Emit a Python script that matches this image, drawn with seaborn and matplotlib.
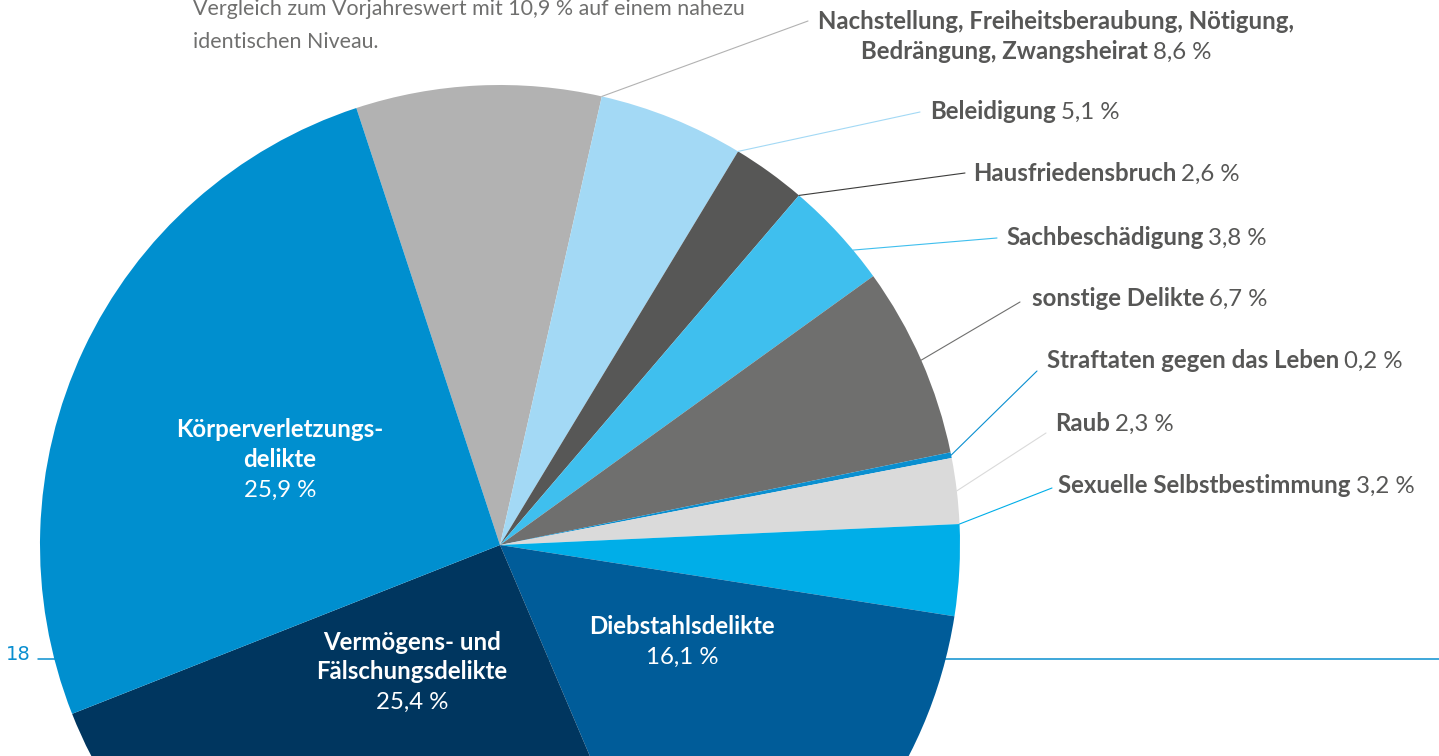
import numpy as np
import matplotlib.pyplot as plt
import seaborn as sns

sns.set_theme(style="white")
plt.rcParams['font.family'] = ['Lato', 'DejaVu Sans']

# slices, clockwise from the top
categories = [
    "Nachstellung, Freiheitsberaubung, Nötigung,\nBedrängung, Zwangsheirat",
    "Beleidigung",
    "Hausfriedensbruch",
    "Sachbeschädigung",
    "sonstige Delikte",
    "Straftaten gegen das Leben",
    "Raub",
    "Sexuelle Selbstbestimmung",
    "Diebstahlsdelikte",
    "Vermögens- und\nFälschungsdelikte",
    "Körperverletzungs-\ndelikte",
]
shares = [8.6, 5.1, 2.6, 3.8, 6.7, 0.2, 2.3, 3.2, 16.1, 25.4, 25.9]
colors = ["#b2b2b2", "#a3d9f5", "#575756", "#3fbfee", "#6f6f6e", "#0a8fd0",
          "#dadada", "#00aee8", "#005c99", "#00365f", "#008fcf"]
line_colors = ["#b2b2b2", "#a3d9f5", "#3c3c3b", "#3fbfee", "#6f6f6e", "#0a8fd0",
               "#dadada", "#00aee8"]

intro = ["Vergleich zum Vorjahreswert mit 10,9 % auf einem nahezu",
         "identischen Niveau."]
page_number = "18"

W, H = 1439, 756
TXT = "#575756"
FS = 17.3


def pct(v):
    return f"{v:.1f}".replace(".", ",") + " %"


fig = plt.figure(figsize=(W / 100, H / 100), dpi=100)
ax = fig.add_axes([0, 0, 1, 1])

cx, cy, R = 500, H - 545, 460

# blue page rule behind the pie
ax.plot([38, W], [H - 658.5, H - 658.5], color="#0a8fd0", lw=1.1, zorder=0)

wedges, _ = ax.pie(shares, colors=colors, startangle=108.2, counterclock=False,
                   radius=R, center=(cx, cy), frame=False,
                   wedgeprops=dict(linewidth=0))
for w in wedges:
    w.set_zorder(1)

ax.set_xlim(0, W)
ax.set_ylim(0, H)
ax.set_aspect("auto")
ax.axis("off")

renderer = fig.canvas.get_renderer()


def name_value(x, y, name, value, color=TXT, ha="left"):
    t = ax.text(x, H - y, name, fontsize=FS, weight="bold", color=color,
                ha=ha, va="baseline", zorder=5)
    bb = t.get_window_extent(renderer)
    ax.text(bb.x1 + 5, H - y, value, fontsize=FS, color=color,
            ha="left", va="baseline", zorder=5)


# outside labels: anchor position within slice, line end, text start (px)
anchor_frac = [0.0, 0.0, 0.0, 0.3, 0.5, 0.5, 0.5, 1.0]
line_end = [(808, 21), (920, 112), (965, 173), (997, 238), (1020, 302),
            (1037, 371), (1046, 433), (1052, 488)]
text_pos = [(861, 59), (930, 119), (973, 181), (1006, 245), (1032, 306),
            (1047, 368), (1055, 431), (1058, 493)]

for i in range(8):
    w = wedges[i]
    ang = w.theta1 + anchor_frac[i] * (w.theta2 - w.theta1)
    ax_, ay_ = cx + R * np.cos(np.radians(ang)), cy + R * np.sin(np.radians(ang))
    ex, ey = line_end[i]
    ax.plot([ax_, ex], [ay_, H - ey], color=line_colors[i], lw=0.8, zorder=4)
    lines = categories[i].split("\n")
    if len(lines) > 1:
        ax.text(818, H - 29, lines[0], fontsize=FS, weight="bold", color=TXT,
                ha="left", va="baseline")
    name_value(text_pos[i][0], text_pos[i][1], lines[-1], pct(shares[i]))

# labels inside the big slices (center x, baselines)
inner = {8: (682, [634], 664), 9: (412, [650, 679], 709), 10: (280, [437, 467], 497)}
for i, (x, ys, yv) in inner.items():
    for line, y in zip(categories[i].split("\n"), ys):
        ax.text(x, H - y, line, fontsize=FS, weight="bold", color="white",
                ha="center", va="baseline", zorder=5)
    ax.text(x, H - yv, pct(shares[i]), fontsize=FS, color="white",
            ha="center", va="baseline", zorder=5)

# intro text cut off at the top of the page
for line, y in zip(intro, [15, 48]):
    ax.text(193, H - y, line, fontsize=15.4, color="#6f6f6e",
            ha="left", va="baseline")

ax.text(6, H - 654, page_number, fontsize=14, color="#0a8fd0",
        family="DejaVu Sans", ha="left", va="center")

fig.savefig("out.png", dpi=100)
